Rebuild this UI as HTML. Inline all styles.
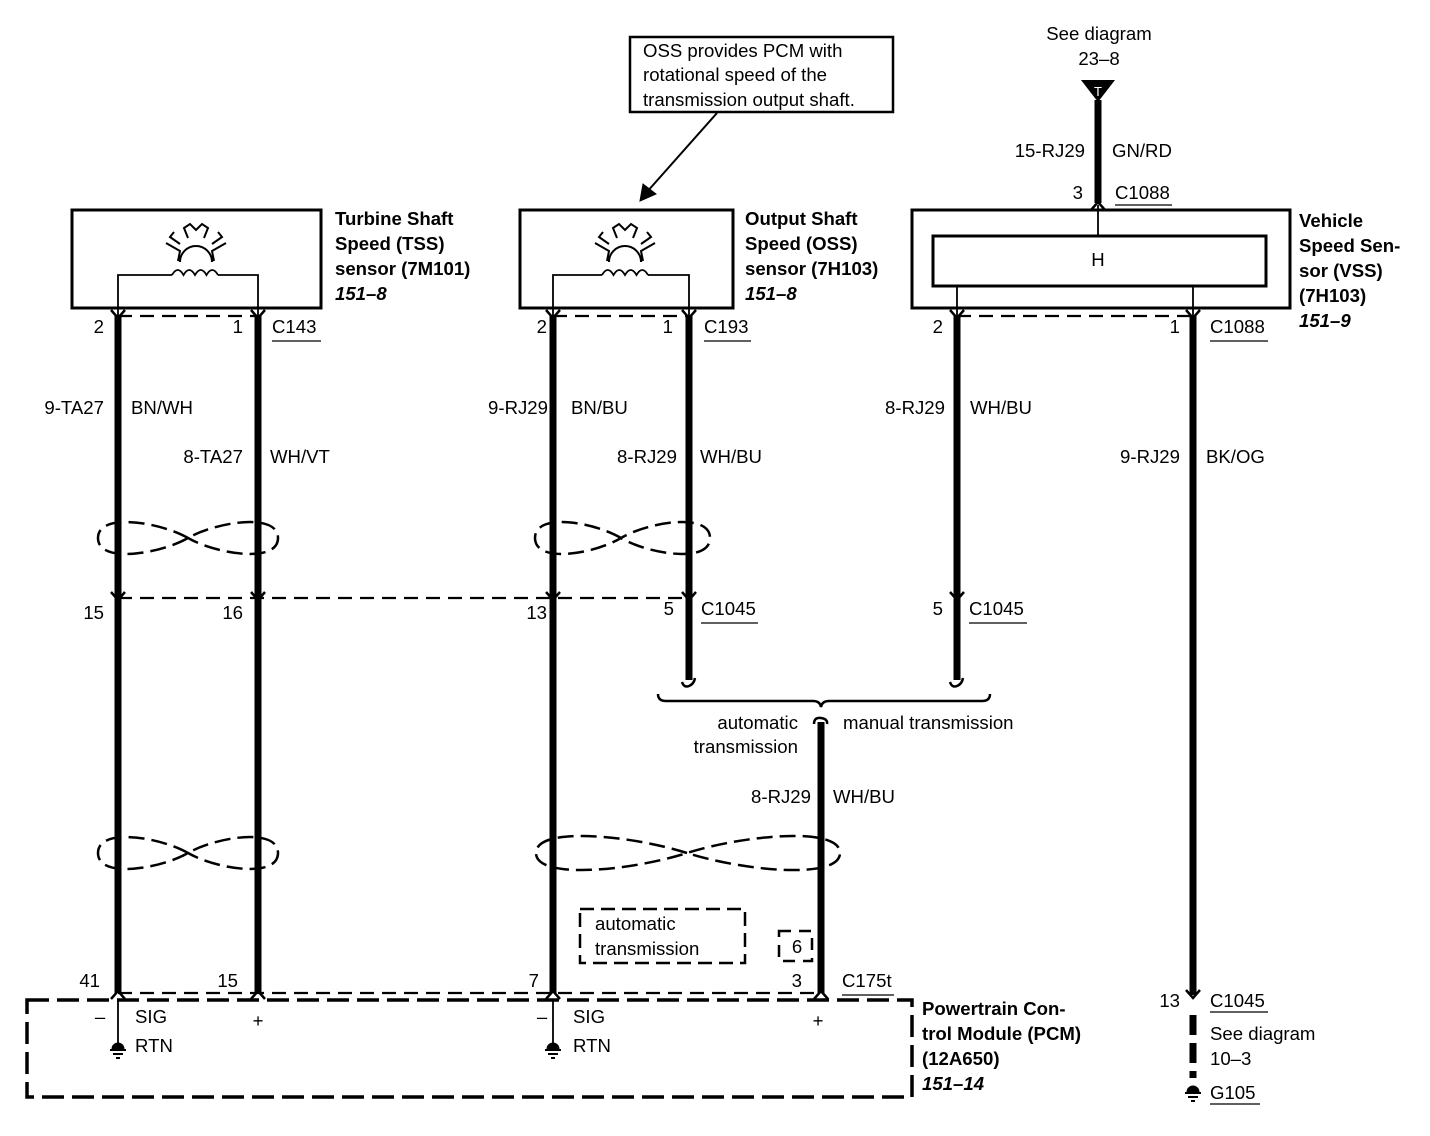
<!DOCTYPE html>
<html><head><meta charset="utf-8"><style>
html,body{margin:0;padding:0;background:#fff}
svg{display:block}
text{font-family:"Liberation Sans",sans-serif;font-size:18.6px;fill:#000}
.b{font-weight:bold}
.bi{font-weight:bold;font-style:italic}
</style></head><body>
<svg width="1430" height="1136" viewBox="0 0 1430 1136" xmlns="http://www.w3.org/2000/svg">
<g fill="none" stroke="#000">
<!-- callout -->
<rect x="630" y="37" width="263" height="75" stroke-width="2.5"/>
<line x1="717" y1="113" x2="646" y2="193" stroke-width="2"/>
<polygon points="640,201 643,184 656,194" fill="#000" stroke-width="1"/>
<!-- sensor boxes -->
<rect x="72" y="210" width="249" height="98" stroke-width="3"/>
<rect x="520" y="210" width="213" height="98" stroke-width="3"/>
<rect x="912" y="210" width="378" height="98" stroke-width="3"/>
<rect x="933" y="236" width="333" height="50" stroke-width="3"/>
<!-- inner coil wires -->
<path d="M118,316 V275 H172 M218,275 H258 V316" stroke-width="1.8"/>
<path d="M172,275 q5.75,-10 11.5,0 q5.75,-10 11.5,0 q5.75,-10 11.5,0 q5.75,-10 11.5,0" stroke-width="1.8"/>
<path d="M553,316 V275 H602 M648,275 H689 V316" stroke-width="1.8"/>
<path d="M602,275 q5.75,-10 11.5,0 q5.75,-10 11.5,0 q5.75,-10 11.5,0 q5.75,-10 11.5,0" stroke-width="1.8"/>
<!-- gear symbols -->
<g stroke-width="2">
<path d="M180,262 a16,16 0 0 1 32,0 M166,243 l14,8 l-2,10 M226,243 l-14,8 l2,10 M188,238 l-4,-10 l6,-4 l6,6 l6,-6 l6,4 l-4,10 M180,244 l-10,-7 l4,-5 M212,244 l10,-7 l-4,-5"/>
<path d="M609,262 a16,16 0 0 1 32,0 M595,243 l14,8 l-2,10 M655,243 l-14,8 l2,10 M617,238 l-4,-10 l6,-4 l6,6 l6,-6 l6,4 l-4,10 M609,244 l-10,-7 l4,-5 M641,244 l10,-7 l-4,-5"/>
</g>
<path d="M957,286 V316 M1193,286 V316 M1098,205 V236" stroke-width="1.8"/>
<!-- connector dashed lines -->
<g stroke-width="2.2" stroke-dasharray="14,8">
<line x1="118" y1="316" x2="258" y2="316"/>
<line x1="553" y1="316" x2="689" y2="316"/>
<line x1="957" y1="316" x2="1193" y2="316"/>
<line x1="118" y1="598" x2="689" y2="598"/>
<line x1="118" y1="993" x2="821" y2="993"/>
</g>
<!-- PCM box -->
<path d="M27,1000 H912 V1097 H27 Z" stroke-width="3.5" stroke-dasharray="22,8"/>
<!-- thick wires -->
<g stroke-width="7">
<line x1="118" y1="316" x2="118" y2="993"/>
<line x1="258" y1="316" x2="258" y2="993"/>
<line x1="553" y1="316" x2="553" y2="993"/>
<line x1="689" y1="316" x2="689" y2="680"/>
<line x1="957" y1="316" x2="957" y2="680"/>
<line x1="1193" y1="316" x2="1193" y2="995"/>
<line x1="821" y1="722" x2="821" y2="993"/>
<line x1="1098" y1="100" x2="1098" y2="203"/>
<line x1="1193" y1="1015" x2="1193" y2="1078" stroke-dasharray="20,8"/>
</g>
<!-- curls -->
<path d="M682,682 q2,6 7,4 q5,-2 6,-8 M950,682 q2,6 7,4 q5,-2 6,-8 M814,724 q0,-7 7,-6 q7,1 6,6" stroke-width="2.5"/>
<!-- bracket -->
<path d="M658,694 q0,7 8,7 H813 q7,0 8,6 q1,-6 8,-6 H982 q8,0 8,-7" stroke-width="2.5"/>
<!-- connector chevrons -->
<g stroke-width="2.5">
<path d="M111,310 l7,8 l7,-8 M251,310 l7,8 l7,-8 M546,310 l7,8 l7,-8 M682,310 l7,8 l7,-8 M950,310 l7,8 l7,-8 M1186,310 l7,8 l7,-8"/>
<path d="M111,592 l7,8 l7,-8 M251,592 l7,8 l7,-8 M546,592 l7,8 l7,-8 M682,592 l7,8 l7,-8 M950,592 l7,8 l7,-8 M1186,990 l7,8 l7,-8"/>
<path d="M111,999 l7,-8 l7,8 M251,999 l7,-8 l7,8 M546,999 l7,-8 l7,8 M814,999 l7,-8 l7,8 M1091,210 l7,-8 l7,8"/>
</g>
<!-- twisted pairs -->
<g stroke-width="2.5" stroke-dasharray="16,7">
<path d="M188,538 C160,522 98,512 98,538 C98,564 160,554 188,538 C216,522 278,512 278,538 C278,564 216,554 188,538 Z"/>
<path d="M621,538 C594,522 535,512 535,538 C535,564 594,554 621,538 C648,522 710,512 710,538 C710,564 648,554 621,538 Z"/>
<path d="M188,853 C160,837 98,827 98,853 C98,879 160,869 188,853 C216,837 278,827 278,853 C278,879 216,869 188,853 Z"/>
<path d="M687,853 C630,835 536,826 536,853 C536,880 630,871 687,853 C744,835 840,826 840,853 C840,880 744,871 687,853 Z"/>
</g>
<!-- dashed small boxes -->
<rect x="580" y="909" width="165" height="54" stroke-width="2.5" stroke-dasharray="14,7"/>
<rect x="779" y="931" width="33" height="30" stroke-width="2.5" stroke-dasharray="12,8"/>
<!-- PCM internal thin -->
<path d="M118,999 V1043 M553,999 V1043" stroke-width="1.8"/>
<!-- grounds -->
<path d="M110,1050 h16 M113,1054 h10 M116,1058 h4 M545,1050 h16 M548,1054 h10 M551,1058 h4 M1185,1093 h16 M1188,1097 h10 M1191,1101 h4" stroke-width="2"/>
<path d="M112,1049 a6,6 0 0 1 12,0 M547,1049 a6,6 0 0 1 12,0 M1187,1092 a6,6 0 0 1 12,0" fill="#000" stroke-width="1"/>
<!-- underlines -->
<g stroke-width="1.2">
<line x1="272" y1="341" x2="321" y2="341"/>
<line x1="704" y1="341" x2="751" y2="341"/>
<line x1="1210" y1="341" x2="1268" y2="341"/>
<line x1="1115" y1="205" x2="1172" y2="205"/>
<line x1="701" y1="623" x2="758" y2="623"/>
<line x1="969" y1="623" x2="1027" y2="623"/>
<line x1="842" y1="995" x2="894" y2="995"/>
<line x1="1210" y1="1012" x2="1268" y2="1012"/>
<line x1="1210" y1="1104" x2="1260" y2="1104"/>
</g>
</g>
<polygon points="1081,80 1115,80 1098,102" fill="#000"/>
<text x="1098" y="96" text-anchor="middle" style="fill:#fff;font-size:13px">T</text>

<text x="643" y="57">OSS provides PCM with</text>
<text x="643" y="81">rotational speed of the</text>
<text x="643" y="106">transmission output shaft.</text>
<text x="1099" y="40" text-anchor="middle">See diagram</text>
<text x="1099" y="65" text-anchor="middle">23–8</text>
<text x="1085" y="157" text-anchor="end">15-RJ29</text>
<text x="1112" y="157">GN/RD</text>
<text x="1083" y="199" text-anchor="end">3</text>
<text x="1115" y="199">C1088</text>
<text x="1098" y="266" text-anchor="middle">H</text>

<text class="b" x="335" y="225">Turbine Shaft</text>
<text class="b" x="335" y="250">Speed (TSS)</text>
<text class="b" x="335" y="275">sensor (7M101)</text>
<text class="bi" x="335" y="300">151–8</text>
<text class="b" x="745" y="225">Output Shaft</text>
<text class="b" x="745" y="250">Speed (OSS)</text>
<text class="b" x="745" y="275">sensor (7H103)</text>
<text class="bi" x="745" y="300">151–8</text>
<text class="b" x="1299" y="227">Vehicle</text>
<text class="b" x="1299" y="252">Speed Sen-</text>
<text class="b" x="1299" y="277">sor (VSS)</text>
<text class="b" x="1299" y="302">(7H103)</text>
<text class="bi" x="1299" y="327">151–9</text>

<text x="104" y="333" text-anchor="end">2</text>
<text x="243" y="333" text-anchor="end">1</text>
<text x="272" y="333">C143</text>
<text x="547" y="333" text-anchor="end">2</text>
<text x="673" y="333" text-anchor="end">1</text>
<text x="704" y="333">C193</text>
<text x="943" y="333" text-anchor="end">2</text>
<text x="1180" y="333" text-anchor="end">1</text>
<text x="1210" y="333">C1088</text>

<text x="104" y="414" text-anchor="end">9-TA27</text>
<text x="131" y="414">BN/WH</text>
<text x="243" y="463" text-anchor="end">8-TA27</text>
<text x="270" y="463">WH/VT</text>
<text x="548" y="414" text-anchor="end">9-RJ29</text>
<text x="571" y="414">BN/BU</text>
<text x="677" y="463" text-anchor="end">8-RJ29</text>
<text x="700" y="463">WH/BU</text>
<text x="945" y="414" text-anchor="end">8-RJ29</text>
<text x="970" y="414">WH/BU</text>
<text x="1180" y="463" text-anchor="end">9-RJ29</text>
<text x="1206" y="463">BK/OG</text>

<text x="104" y="619" text-anchor="end">15</text>
<text x="243" y="619" text-anchor="end">16</text>
<text x="547" y="619" text-anchor="end">13</text>
<text x="674" y="615" text-anchor="end">5</text>
<text x="701" y="615">C1045</text>
<text x="943" y="615" text-anchor="end">5</text>
<text x="969" y="615">C1045</text>

<text x="798" y="729" text-anchor="end">automatic</text>
<text x="798" y="753" text-anchor="end">transmission</text>
<text x="843" y="729">manual transmission</text>
<text x="811" y="803" text-anchor="end">8-RJ29</text>
<text x="833" y="803">WH/BU</text>

<text x="595" y="930">automatic</text>
<text x="595" y="955">transmission</text>
<text x="797" y="953" text-anchor="middle">6</text>

<text x="100" y="987" text-anchor="end">41</text>
<text x="238" y="987" text-anchor="end">15</text>
<text x="539" y="987" text-anchor="end">7</text>
<text x="802" y="987" text-anchor="end">3</text>
<text x="842" y="987">C175t</text>
<text x="100" y="1023" text-anchor="middle">–</text>
<text x="135" y="1023">SIG</text>
<text x="135" y="1052">RTN</text>
<text x="258" y="1027" text-anchor="middle">+</text>
<text x="542" y="1023" text-anchor="middle">–</text>
<text x="573" y="1023">SIG</text>
<text x="573" y="1052">RTN</text>
<text x="818" y="1027" text-anchor="middle">+</text>

<text class="b" x="922" y="1015">Powertrain Con-</text>
<text class="b" x="922" y="1040">trol Module (PCM)</text>
<text class="b" x="922" y="1065">(12A650)</text>
<text class="bi" x="922" y="1090">151–14</text>

<text x="1180" y="1007" text-anchor="end">13</text>
<text x="1210" y="1007">C1045</text>
<text x="1210" y="1040">See diagram</text>
<text x="1210" y="1065">10–3</text>
<text x="1210" y="1099">G105</text>
</svg>
</body></html>
